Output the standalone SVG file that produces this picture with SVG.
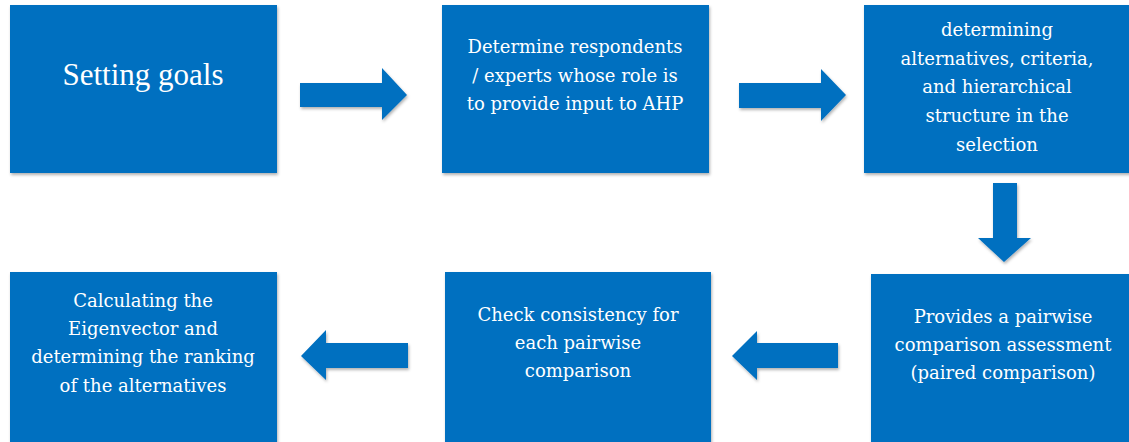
<svg xmlns="http://www.w3.org/2000/svg" width="1129" height="442" viewBox="0 0 1129 442">
<style>
.box{fill:#0070C0;filter:url(#sh);}
.arr{fill:#0070C0;filter:url(#sh);}
text{font-family:"DejaVu Serif",serif;fill:#ffffff;text-anchor:middle;font-size:18px;}
.big{font-family:"Liberation Serif","Times New Roman",serif;font-size:31px;}
</style>
<defs>
<filter id="sh" x="-10%" y="-10%" width="130%" height="130%">
<feDropShadow dx="1" dy="2" stdDeviation="1.5" flood-color="#000" flood-opacity="0.3"/>
</filter>
</defs>
<rect width="1129" height="442" fill="#fff"/>
<g id="n1"><rect class="box" x="10" y="5" width="267" height="168"/><text class="big" x="143" y="85">Setting goals</text></g>
<g id="n2"><rect class="box" x="442" y="5" width="267" height="168"/>
<text x="575" y="53">Determine respondents</text><text x="575" y="82">/ experts whose role is</text><text x="575" y="110">to provide input to AHP</text></g>
<g id="n3"><rect class="box" x="864" y="5" width="270" height="168"/>
<text x="997" y="36">determining</text><text x="997" y="65">alternatives, criteria,</text><text x="997" y="93">and hierarchical</text><text x="997" y="122">structure in the</text><text x="997" y="151">selection</text></g>
<g id="n6"><rect class="box" x="871" y="274" width="263" height="172"/>
<text x="1003" y="323">Provides a pairwise</text><text x="1003" y="351">comparison assessment</text><text x="1003" y="379">(paired comparison)</text></g>
<g id="n5"><rect class="box" x="445" y="272" width="266" height="174"/>
<text x="578" y="321">Check consistency for</text><text x="578" y="349">each pairwise</text><text x="578" y="377">comparison</text></g>
<g id="n4"><rect class="box" x="10" y="272" width="267" height="174"/>
<text x="143" y="307">Calculating the</text><text x="143" y="335">Eigenvector and</text><text x="143" y="363">determining the ranking</text><text x="143" y="392">of the alternatives</text></g>
<g id="connectors">
<polygon class="arr" points="300,83 382,83 382,68 407,95 382,120 382,107 300,107"/>
<polygon class="arr" points="739,83 821,83 821,69 846,95 821,121 821,108 739,108"/>
<polygon class="arr" points="993,183 1017,183 1017,238 1031,238 1004,262 978,238 993,238"/>
<polygon class="arr" points="838,343 757,343 757,331 732,356 757,380 757,368 838,368"/>
<polygon class="arr" points="408,343 326,343 326,330 301,356 326,380 326,368 408,368"/>
</g>
</svg>
